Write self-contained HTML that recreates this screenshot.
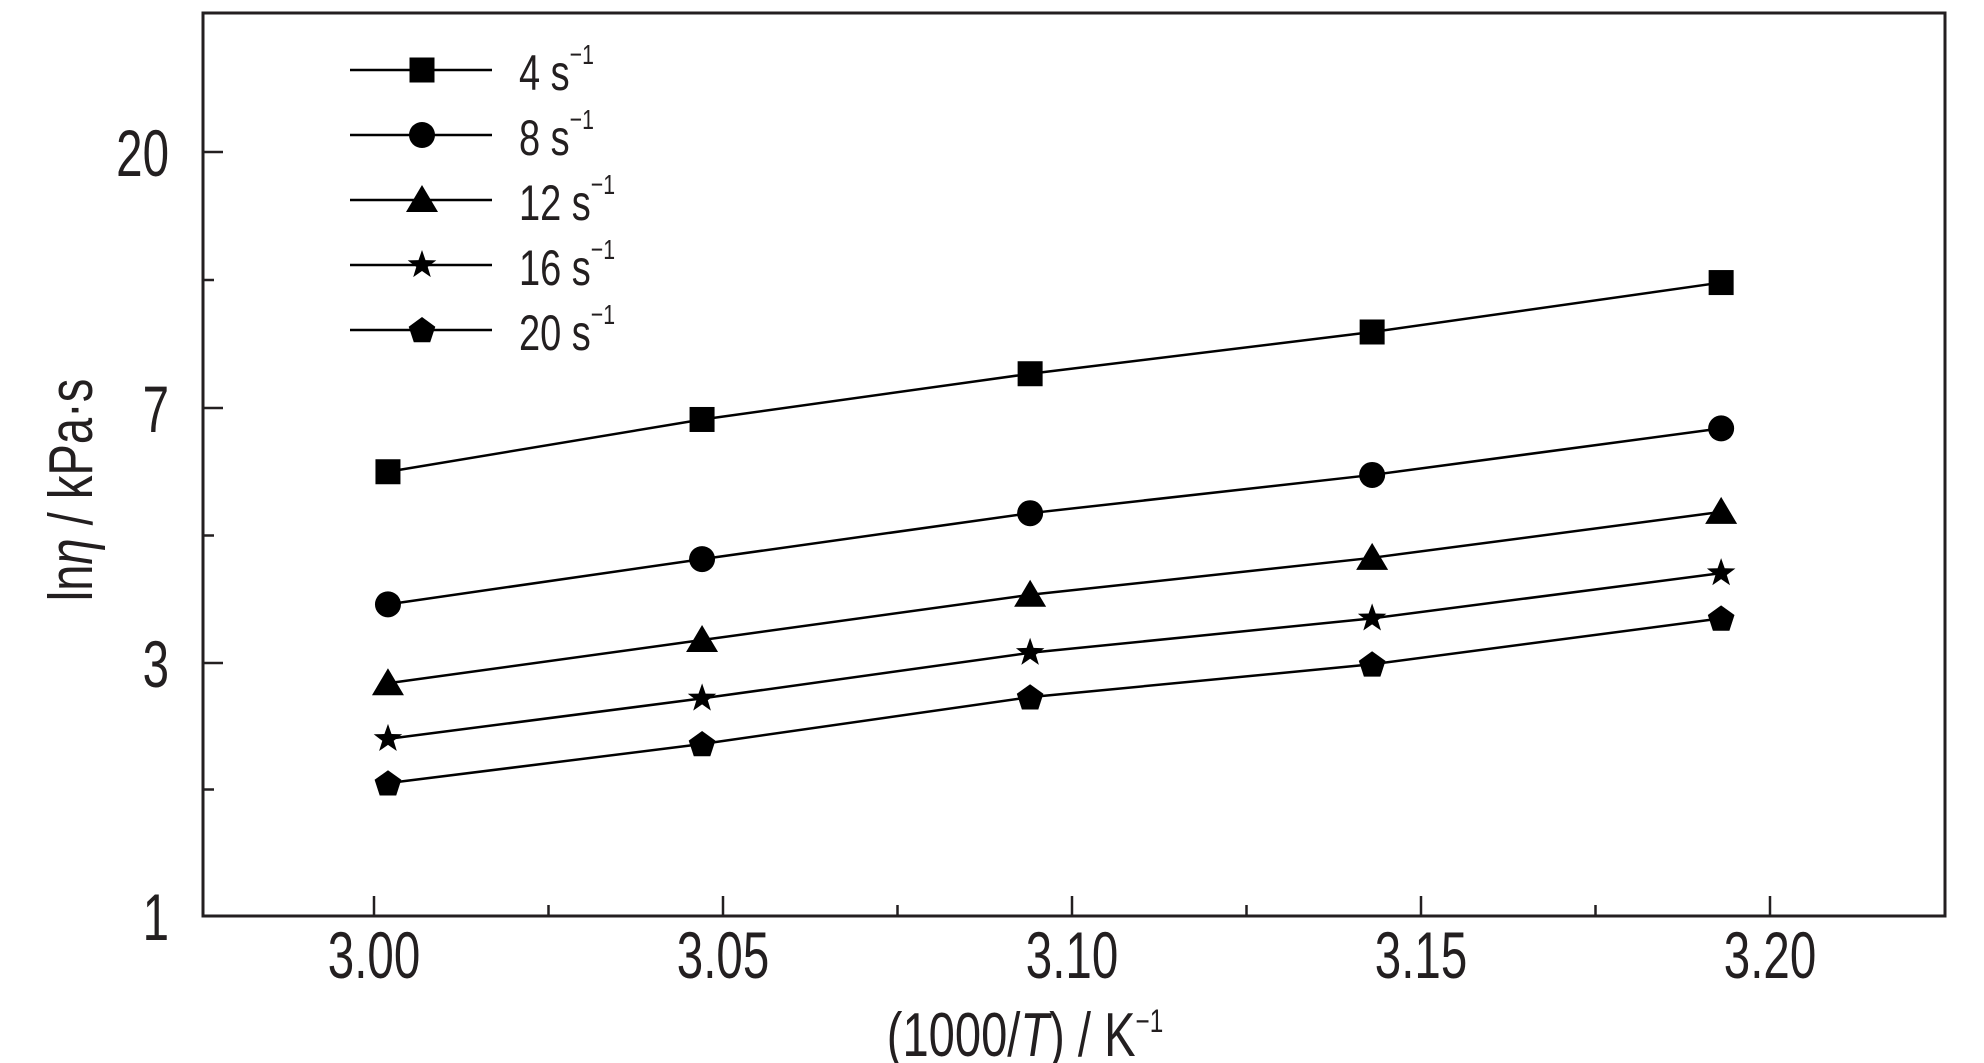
<!DOCTYPE html>
<html><head><meta charset="utf-8"><style>
html,body{margin:0;padding:0;background:#fff}
svg{display:block;font-family:"Liberation Sans",sans-serif;fill:#231f20}
</style></head><body>
<svg id="chart" width="1984" height="1063" viewBox="0 0 1984 1063" xmlns="http://www.w3.org/2000/svg"></svg>
<script>
const xValues=[3.002,3.047,3.094,3.143,3.193];
const series4=[6.0,6.82,8.74,10.86,13.37];
const series8=[3.92,4.63,5.35,5.95,6.68];
const series12=[2.84,3.36,4.07,4.65,5.37];
const series16=[2.40,2.72,3.16,3.70,4.41];
const series20=[2.05,2.36,2.73,2.99,3.70];
const seriesLabels=["4 s","8 s","12 s","16 s","20 s"];
const xTicks=[3.00,3.05,3.10,3.15,3.20];
const xTickLabels=["3.00","3.05","3.10","3.15","3.20"];
const yTicks=[1,3,7,20];
const yTickLabels=["1","3","7","20"];

const NS="http://www.w3.org/2000/svg";
const svg=document.getElementById('chart');
const L=203,R=1945,T=13,B=916;
const yPix=[916,663,408,152];
function xs(v){return 374+(v-3.0)/0.05*349;}
function ys(v){
  for(let i=0;i<yTicks.length-1;i++){
    if(v<=yTicks[i+1]||i===yTicks.length-2){
      return yPix[i]+(v-yTicks[i])/(yTicks[i+1]-yTicks[i])*(yPix[i+1]-yPix[i]);
    }
  }
}
function mk(tag,attrs,parent){const e=document.createElementNS(NS,tag);for(const k in attrs)e.setAttribute(k,attrs[k]);(parent||svg).appendChild(e);return e;}

const frame=mk('rect',{x:L,y:T,width:R-L,height:B-T,fill:'none',stroke:'#231f20','stroke-width':3});



xTicks.forEach((t,i)=>{
  const x=xs(t);
  const tk=mk('line',{x1:x,x2:x,y1:B,y2:B-20,stroke:'#231f20','stroke-width':2.5});
  
  
  const tx=mk('text',{x:0,y:0,'font-size':66,'text-anchor':'middle',transform:`translate(${x},${B+62}) scale(0.72,1)`});
  tx.textContent=xTickLabels[i];
  
  
  if(i<xTicks.length-1){
    const xm=xs(t+0.025);
    const mt=mk('line',{x1:xm,x2:xm,y1:B,y2:B-11,stroke:'#231f20','stroke-width':2.5});
    
    
  }
});
yTicks.forEach((t,i)=>{
  const y=ys(t);
  const tk=mk('line',{x1:L,x2:L+20,y1:y,y2:y,stroke:'#231f20','stroke-width':2.5});
  
  
  const tx=mk('text',{x:0,y:0,'font-size':66,'text-anchor':'end',transform:`translate(${L-34},${y+24}) scale(0.72,1)`});
  tx.textContent=yTickLabels[i];
  
  
  if(i<yTicks.length-1){
    const ym=(yPix[i]+yPix[i+1])/2;
    const mt=mk('line',{x1:L,x2:L+11,y1:ym,y2:ym,stroke:'#231f20','stroke-width':2.5});
    
    
  }
});

const xt=mk('text',{x:0,y:0,'font-size':62,'text-anchor':'middle',transform:'translate(1025,1056) scale(0.76,1)'});
xt.innerHTML='(1000/<tspan font-style="italic">T</tspan>) / K<tspan dy="-24" font-size="32">−1</tspan>';


const yt=mk('text',{x:0,y:0,'font-size':62,'text-anchor':'middle',transform:'translate(92,490) rotate(-90) scale(0.76,1)'});
yt.innerHTML='ln<tspan font-style="italic">η</tspan> / kPa·s';



function marker(type,x,y,parent){
  let e;
  if(type===0)e=mk('rect',{x:x-12.5,y:y-12.5,width:25,height:25},parent);
  else if(type===1)e=mk('circle',{cx:x,cy:y,r:13},parent);
  else if(type===2)e=mk('polygon',{points:`${x},${y-15} ${x+16},${y+12} ${x-16},${y+12}`},parent);
  else if(type===3){let p=[];for(let k=0;k<10;k++){const r=k%2?6:15,a=-Math.PI/2+k*Math.PI/5;p.push((x+r*Math.cos(a)).toFixed(1)+','+(y+r*Math.sin(a)).toFixed(1));}e=mk('polygon',{points:p.join(' ')},parent);}
  else{let p=[];for(let k=0;k<5;k++){const a=-Math.PI/2+k*2*Math.PI/5;p.push((x+14*Math.cos(a)).toFixed(1)+','+(y+1+14*Math.sin(a)).toFixed(1));}e=mk('polygon',{points:p.join(' ')},parent);}
  e.setAttribute('fill','#000');
  return e;
}

const allSeries=[series4,series8,series12,series16,series20];
allSeries.forEach((s,si)=>{
  const g=mk('g',{});
  
  
  const pts=s.map((v,i)=>xs(xValues[i])+','+ys(v)).join(' ');
  const pl=mk('polyline',{points:pts,fill:'none',stroke:'#000','stroke-width':2.5},g);
  
  
  s.forEach((v,i)=>{
    const m=marker(si,xs(xValues[i]),ys(v),g);
    
    
  });
  const ly=70+si*65;
  const lg=mk('g',{});
  
  
  mk('line',{x1:350,x2:492,y1:ly,y2:ly,stroke:'#000','stroke-width':2.5},lg);
  marker(si,422,ly,lg);
  const t=mk('text',{x:0,y:0,'font-size':50,transform:`translate(519,${ly+20}) scale(0.76,1)`},lg);
  t.innerHTML=seriesLabels[si]+'<tspan dy="-26" font-size="28">−1</tspan>';
});
</script>
</body></html>
